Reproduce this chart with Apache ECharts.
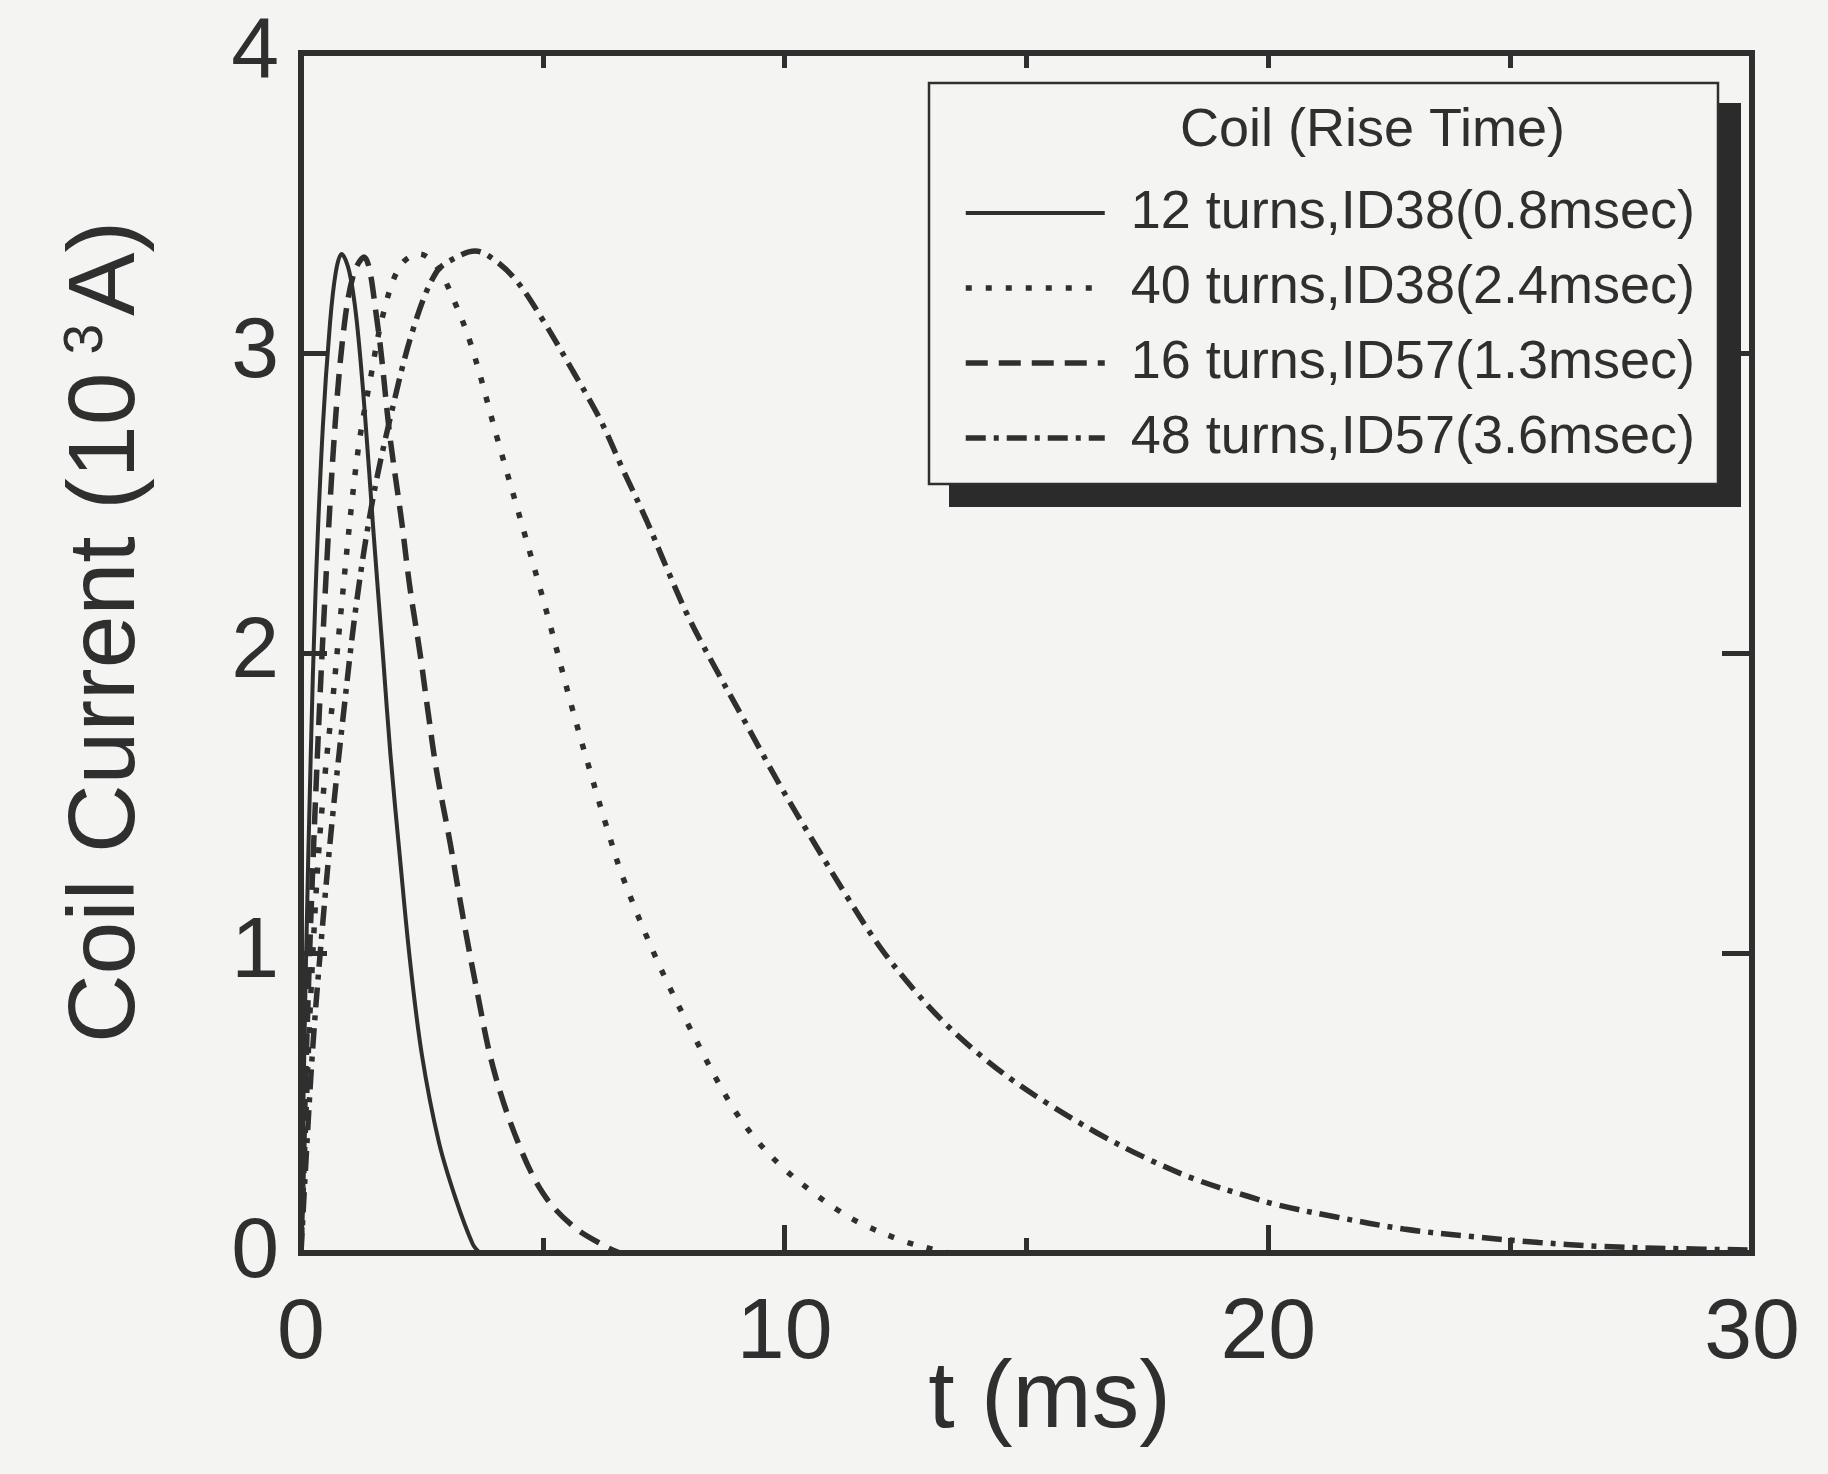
<!DOCTYPE html>
<html>
<head>
<meta charset="utf-8">
<script src="https://cdn.jsdelivr.net/npm/echarts@6/dist/echarts.min.js"></script>
<style>
html,body{margin:0;padding:0;background:#f4f4f2;}
#chart{width:1828px;height:1474px;}
</style>
</head>
<body>
<div id="chart"></div>
<script>
// ---- data (t in ms, current in 10^3 A) ----
const seriesNames = [
  '12 turns,ID38(0.8msec)',
  '40 turns,ID38(2.4msec)',
  '16 turns,ID57(1.3msec)',
  '48 turns,ID57(3.6msec)'
];
const t12 = [0, 0.05, 0.1, 0.2, 0.3, 0.45, 0.6, 0.72, 0.84, 1.0, 1.15, 1.32, 1.5, 1.7, 1.85, 2.05, 2.25, 2.5, 2.85, 3.2, 3.55, 3.7];
const i12 = [0, 0.5, 0.95, 1.65, 2.2, 2.75, 3.1, 3.27, 3.33, 3.27, 3.11, 2.8, 2.4, 1.98, 1.66, 1.31, 0.98, 0.66, 0.37, 0.18, 0.03, 0];

const t40 = [0, 0.1, 0.2, 0.35, 0.5, 0.66, 0.81, 1.05, 1.22, 1.43, 1.7, 2.05, 2.45, 2.8, 3.15, 3.53, 4.05, 4.6, 5.09, 5.6, 5.97, 6.32, 6.66, 7.35, 8.04, 8.87, 9.4, 9.96, 10.6, 11.08, 11.56, 12.45, 13.0, 13.4];
const i40 = [0, 0.45, 0.85, 1.3, 1.6, 1.85, 2.11, 2.5, 2.72, 2.91, 3.13, 3.29, 3.33, 3.29, 3.18, 3.02, 2.72, 2.41, 2.13, 1.82, 1.61, 1.42, 1.25, 0.98, 0.75, 0.5, 0.38, 0.285, 0.2, 0.145, 0.1, 0.04, 0.015, 0];

const t16 = [0, 0.1, 0.2, 0.35, 0.5, 0.7, 0.9, 1.1, 1.3, 1.57, 1.84, 2.08, 2.25, 2.46, 2.63, 2.8, 3.08, 3.35, 3.63, 3.97, 4.46, 5.0, 5.62, 6.32, 6.6];
const i16 = [0, 0.6, 1.1, 1.7, 2.2, 2.75, 3.1, 3.27, 3.32, 3.11, 2.72, 2.44, 2.22, 2.0, 1.8, 1.61, 1.37, 1.12, 0.88, 0.62, 0.38, 0.2, 0.09, 0.02, 0];

const t48 = [0, 0.1, 0.25, 0.45, 0.65, 0.88, 1.15, 1.47, 1.84, 2.32, 2.8, 3.22, 3.6, 4.0, 4.46, 5.0, 5.62, 6.18, 6.66, 7.15, 7.57, 8.04, 8.6, 9.08, 9.9, 10.6, 11.28, 11.97, 12.66, 13.35, 14.04, 14.72, 15.42, 16.46, 17.49, 18.5, 19.56, 20.2, 21.4, 22.8, 24.2, 25.6, 26.9, 28.3, 30];
const i48 = [0, 0.3, 0.7, 1.1, 1.45, 1.8, 2.17, 2.5, 2.78, 3.08, 3.27, 3.32, 3.34, 3.31, 3.24, 3.11, 2.94, 2.78, 2.61, 2.44, 2.28, 2.11, 1.94, 1.8, 1.56, 1.37, 1.19, 1.02, 0.88, 0.76, 0.66, 0.575, 0.5, 0.4, 0.315, 0.245, 0.19, 0.16, 0.12, 0.08, 0.055, 0.035, 0.022, 0.015, 0.01];

const xTicks = [0, 10, 20, 30];
const yTicks = [0, 1, 2, 3, 4];

// ---- styling ----
const INK = '#2f2f2f';
const BG = '#f4f4f2';
const FONT = '"Liberation Sans", Arial, Helvetica, sans-serif';

function zip(ts, is) { return ts.map((t, k) => [t, is[k]]); }

const chart = echarts.init(document.getElementById('chart'), null, {renderer: 'canvas'});

const lineBase = {
  type: 'line', symbol: 'none', smooth: 0.35,
  xAxisIndex: 0, yAxisIndex: 0, z: 3
};

const frameLine = {show: true, onZero: false, lineStyle: {color: INK, width: 6, cap: 'square'}};

const option = {
  backgroundColor: BG,
  animation: false,
  textStyle: {fontFamily: FONT, color: INK},
  grid: {left: 301, right: 76, top: 53, bottom: 221, containLabel: false, outerBoundsMode: 'none'},
  xAxis: [
    {
      type: 'value', min: xTicks[0], max: xTicks[xTicks.length - 1], interval: 10,
      position: 'bottom',
      name: 't (ms)', nameLocation: 'middle', nameGap: 100, nameMoveOverlap: false,
      nameTextStyle: {fontSize: 95, color: INK, fontFamily: FONT, padding: [0, 0, 0, 46]},
      axisLine: frameLine,
      axisTick: {show: true, inside: true, length: 28, lineStyle: {color: INK, width: 5}},
      minorTick: {show: true, splitNumber: 2, length: 15, lineStyle: {color: INK, width: 5}},
      axisLabel: {fontSize: 86, color: INK, margin: 38, fontFamily: FONT},
      splitLine: {show: false}, minorSplitLine: {show: false}
    },
    {
      type: 'value', min: 0, max: 30, interval: 5, position: 'top',
      axisLine: frameLine,
      axisTick: {show: true, inside: true, length: 15, lineStyle: {color: INK, width: 5}},
      axisLabel: {show: false}, splitLine: {show: false}
    }
  ],
  yAxis: [
    {
      type: 'value', min: yTicks[0], max: yTicks[yTicks.length - 1], interval: 1,
      position: 'left',
      name: 'Coil Current (10{sup|3}A)', nameLocation: 'middle', nameGap: 145,
      nameTextStyle: {
        fontSize: 95, color: INK, fontFamily: FONT, padding: [0, 0, 0, 42],
        rich: {sup: {fontSize: 55, color: INK, fontFamily: FONT, verticalAlign: 'top', padding: [0, 8, 42, 18]}}
      },
      axisLine: frameLine,
      axisTick: {show: true, inside: true, length: 26, lineStyle: {color: INK, width: 5}},
      axisLabel: {fontSize: 86, color: INK, margin: 22, fontFamily: FONT},
      splitLine: {show: false}
    },
    {
      type: 'value', min: 0, max: 4, interval: 1, position: 'right',
      axisLine: frameLine,
      axisTick: {show: true, inside: true, length: 30, lineStyle: {color: INK, width: 5}},
      axisLabel: {show: false}, splitLine: {show: false}
    }
  ],
  legend: {
    orient: 'vertical', left: 963, top: 186, padding: 0,
    itemWidth: 139, itemHeight: 14, itemGap: 21,
    data: [seriesNames[0], seriesNames[1], seriesNames[2], seriesNames[3]],
    itemStyle: {color: 'rgba(0,0,0,0)', borderColor: 'rgba(0,0,0,0)', borderWidth: 0, opacity: 0},
    lineStyle: {width: 'inherit', type: 'inherit', color: 'inherit'},
    textStyle: {fontSize: 54, lineHeight: 54, color: INK, fontFamily: FONT, padding: [0, 0, 0, 21]},
    selectedMode: false, z: 20
  },
  graphic: [
    {type: 'rect', z: 10, shape: {x: 949, y: 103, width: 792, height: 404}, style: {fill: '#2b2b2b'}},
    {type: 'rect', z: 11, shape: {x: 929, y: 83, width: 789, height: 401}, style: {fill: BG, stroke: INK, lineWidth: 2.5}},
    {type: 'text', z: 12, x: 1180, y: 131,
     style: {text: 'Coil (Rise Time)', font: '54px ' + FONT, fill: INK, align: 'left', verticalAlign: 'middle'}}
  ],
  series: [
    Object.assign({}, lineBase, {name: seriesNames[0], data: zip(t12, i12),
      lineStyle: {color: INK, width: 4, type: 'solid'}, itemStyle: {color: INK}}),
    Object.assign({}, lineBase, {name: seriesNames[1], data: zip(t40, i40),
      lineStyle: {color: INK, width: 5.5, type: [6, 14]}, itemStyle: {color: INK}}),
    Object.assign({}, lineBase, {name: seriesNames[2], data: zip(t16, i16),
      lineStyle: {color: INK, width: 5.5, type: [22, 11]}, itemStyle: {color: INK}}),
    Object.assign({}, lineBase, {name: seriesNames[3], data: zip(t48, i48),
      lineStyle: {color: INK, width: 5.5, type: [20, 8, 5, 8]}, itemStyle: {color: INK}})
  ]
};

chart.setOption(option);
</script>
</body>
</html>
